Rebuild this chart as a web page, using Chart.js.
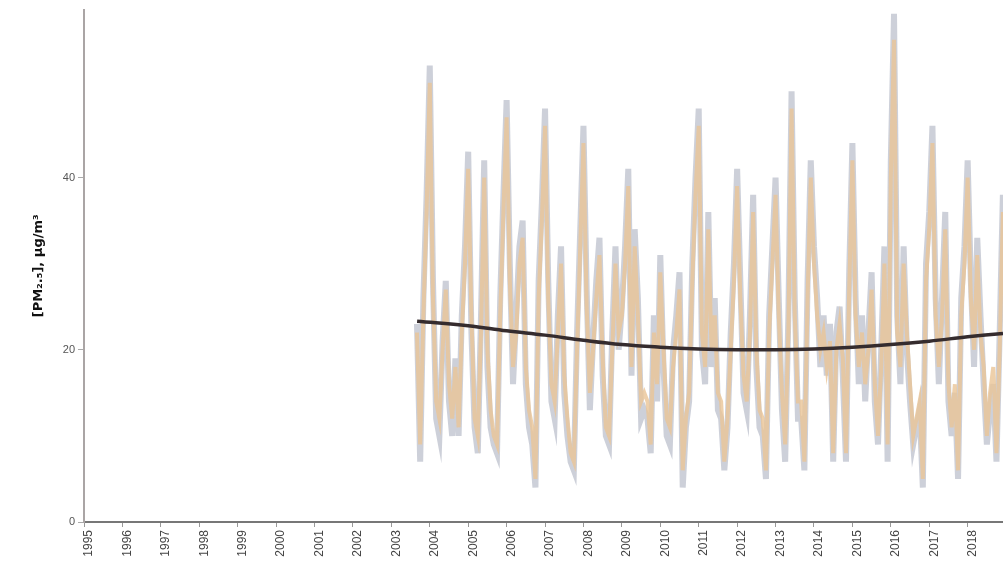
<!DOCTYPE html>
<html>
    <head>
        <title>PM2.5 monthly</title>
        <meta charset="UTF-8">
        <script src="https://cdn.jsdelivr.net/npm/chart.js"></script>
        <style>
            html, body {margin: 0; padding: 0; background: #fff;}
            #wrap {width: 1003px; height: 581px;}
        </style>
    </head>
    <body>
        <div id="wrap"><canvas id="myChart"></canvas></div>
    </body>
    <script>
      // tick labels
      const yearTicks = [1995, 1996, 1997, 1998, 1999, 2000, 2001, 2002, 2003, 2004, 2005, 2006,
                         2007, 2008, 2009, 2010, 2011, 2012, 2013, 2014, 2015, 2016, 2017, 2018];
      const yTicks = [0, 20, 40];

      // monthly values, first value is Sep 2003
      const startYear = 2003;
      const startMonth = 9;
      const orangeVals = [
        22, 9, 24, 36,
        51, 26, 14, 12, 20, 27, 16, 12, 18, 11, 22, 30,
        41, 24, 12, 10, 22, 40, 20, 13, 10, 9, 24, 36,
        47, 28, 18, 22, 30, 33, 18, 13, 11, 5, 26, 35,
        46, 26, 16, 14, 22, 30, 17, 12, 8, 7, 20, 32,
        44, 25, 15, 20, 26, 31, 19, 11, 10, 20, 30, 22,
        24, 30, 39, 18, 32, 24, 14, 15, 14, 9, 22, 16,
        29, 20, 12, 11, 18, 22, 27, 6, 12, 15, 28, 38,
        46, 22, 18, 34, 20, 24, 15, 14, 7, 12, 20, 28,
        39, 26, 17, 14, 22, 36, 20, 13, 12, 6, 22, 30,
        38, 24, 15, 9, 22, 48, 24, 14, 14, 7, 26, 40,
        30, 24, 20, 22, 18, 21, 8, 20, 23, 19, 8, 27,
        42, 24, 18, 22, 16, 20, 27, 16, 10, 18, 30, 9,
        40, 56, 22, 18, 30, 22, 16, 10, 12, 14, 5, 28,
        34, 44, 24, 18, 24, 34, 16, 11, 16, 6, 24, 30,
        40, 26, 20, 31, 22, 18, 10, 15, 18, 8, 20, 36
      ];
      const greyVals = [
        23, 7, 26, 38,
        53, 28, 12, 10, 21, 28, 14, 10, 19, 10, 24, 32,
        43, 22, 11, 8, 24, 42, 18, 11, 9, 8, 26, 38,
        49, 30, 16, 24, 32, 35, 16, 11, 9, 4, 28, 37,
        48, 28, 14, 12, 24, 32, 15, 10, 7, 6, 22, 34,
        46, 27, 13, 21, 28, 33, 17, 10, 9, 22, 32, 20,
        25, 32, 41, 17, 34, 26, 12, 13, 12, 8, 24, 14,
        31, 18, 10, 9, 20, 24, 29, 4, 11, 14, 30, 40,
        48, 20, 16, 36, 18, 26, 13, 12, 6, 11, 22, 30,
        41, 28, 15, 13, 24, 38, 18, 11, 10, 5, 24, 32,
        40, 26, 13, 7, 24, 50, 26, 12, 12, 6, 28, 42,
        32, 26, 18, 24, 17, 23, 7, 22, 25, 17, 7, 29,
        44, 26, 16, 24, 14, 22, 29, 14, 9, 20, 32, 7,
        42, 59, 24, 16, 32, 20, 14, 9, 11, 13, 4, 30,
        36, 46, 26, 16, 26, 36, 14, 10, 15, 5, 26, 32,
        42, 28, 18, 33, 24, 16, 9, 13, 16, 7, 22, 38
      ];

      // smooth trend line
      const trendYears = [2003.67, 2005, 2006, 2007, 2008, 2009, 2010, 2011, 2012, 2013, 2014, 2015, 2016, 2017, 2018, 2018.92];
      const trendVals = [23.3, 22.8, 22.2, 21.7, 21.1, 20.6, 20.3, 20.1, 20.0, 20.0, 20.1, 20.3, 20.6, 21.0, 21.5, 21.9];

      // month index -> decimal year
      function monthX(i) {
        return startYear + (startMonth - 1 + i) / 12;
      }
      const orangeData = orangeVals.map((v, i) => ({ x: monthX(i), y: v }));
      const greyData = greyVals.map((v, i) => ({ x: monthX(i), y: v }));
      const trendData = trendYears.map((yr, i) => ({ x: yr, y: trendVals[i] }));

      const ctx = document.getElementById('myChart').getContext('2d');
      const chart = new Chart(ctx, {
        type: 'line',
        data: {
          datasets: [
            {
              label: 'trend',
              data: trendData,
              borderColor: '#352c2e',
              borderWidth: 3.5,
              pointRadius: 0,
              tension: 0.4,
              order: 0
            },
            {
              label: 'orange',
              data: orangeData,
              borderColor: 'rgba(234, 196, 150, 0.8)',
              borderWidth: 4,
              pointRadius: 0,
              tension: 0,
              order: 1
            },
            {
              label: 'grey',
              data: greyData,
              borderColor: 'rgba(188, 192, 204, 0.75)',
              borderWidth: 6,
              pointRadius: 0,
              tension: 0,
              order: 2
            }
          ]
        },
        options: {
          responsive: true,
          maintainAspectRatio: false,
          animation: false,
          layout: { padding: { top: 4, right: 0, left: 0, bottom: 0 } },
          plugins: {
            legend: { display: false },
            tooltip: { enabled: false }
          },
          scales: {
            x: {
              type: 'linear',
              min: 1995,
              max: 2018.92,
              afterBuildTicks: function(scale) {
                scale.ticks = yearTicks.map(v => ({ value: v }));
              },
              afterFit: function(scale) { scale.height = 59; },
              grid: { drawOnChartArea: false, drawTicks: true, tickLength: 5, color: '#999' },
              border: { display: true, color: '#777', width: 2 },
              ticks: {
                minRotation: 90,
                maxRotation: 90,
                autoSkip: false,
                labelOffset: 5,
                padding: 3,
                color: '#444',
                font: { family: 'Liberation Sans, Arial', size: 12 },
                callback: function(v) { return String(v); }
              }
            },
            y: {
              type: 'linear',
              min: 0,
              max: 59.5,
              afterBuildTicks: function(scale) {
                scale.ticks = yTicks.map(v => ({ value: v }));
              },
              afterFit: function(scale) { scale.width = 84; },
              grid: { drawOnChartArea: false, drawTicks: true, tickLength: 6, color: '#aaa' },
              border: { display: true, color: '#aaa5a5', width: 2 },
              ticks: {
                padding: 3,
                color: '#555',
                font: { family: 'Liberation Sans, Arial', size: 11 }
              },
              title: {
                display: true,
                text: '[PM₂.₅], µg/m³',
                color: '#111',
                padding: { top: 31, bottom: 0 },
                font: { family: 'DejaVu Sans, Liberation Sans', size: 13, weight: 'bold' }
              }
            }
          }
        }
      });
    </script>
</html>
